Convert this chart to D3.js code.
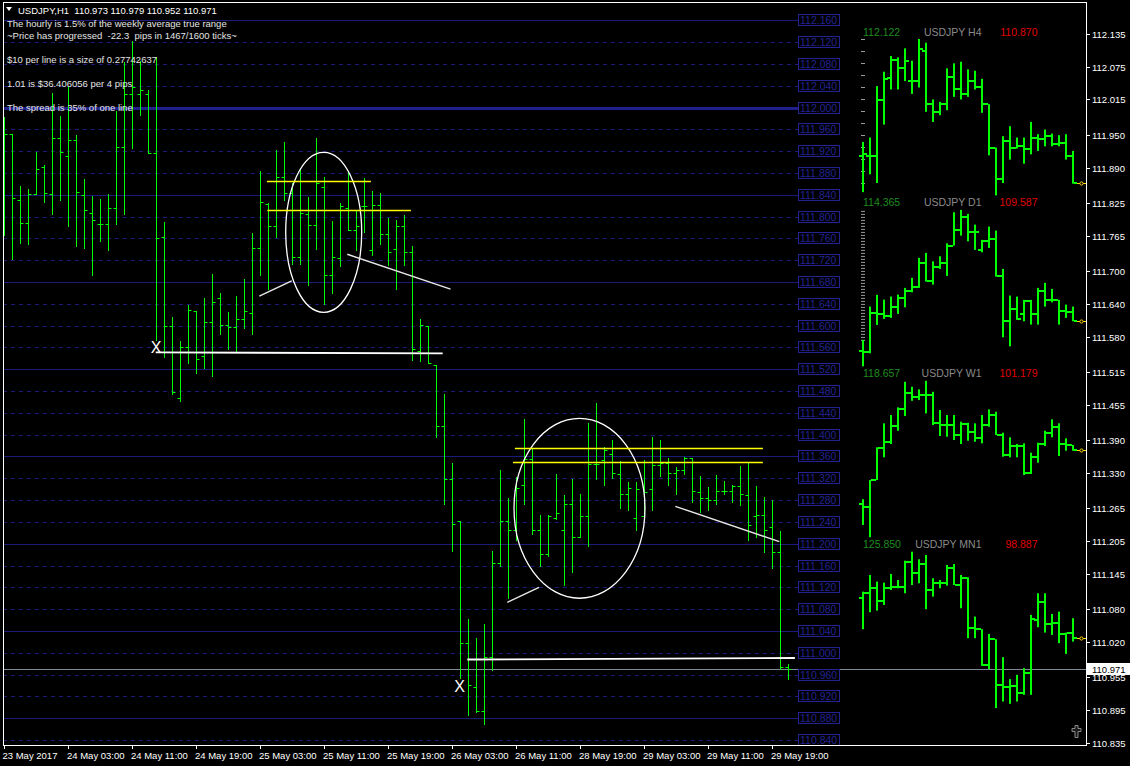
<!DOCTYPE html>
<html><head><meta charset="utf-8">
<script src="https://cdn.jsdelivr.net/npm/d3@7"></script>
<style>
html,body{margin:0;padding:0;background:#000;overflow:hidden}
svg{display:block}
text{font-family:"Liberation Sans",Arial,sans-serif}
</style>
</head><body>
<svg id="c" width="1130" height="766"></svg>
<script>
// ---------- DATA ----------
const headerTitle = "USDJPY,H1";
const headerOHLC = ["110.973", "110.979", "110.952", "110.971"];
const infoLines = [
  "The hourly is 1.5% of the weekly average true range",
  "~Price has progressed  -22.3  pips in 1467/1600 ticks~",
  "$10 per line is a size of 0.27742637",
  "1.01 is $36.406056 per 4 pips",
  "The spread is 35% of one line"
];
const currentPrice = 110.971;

// H1 bars (oldest -> newest)
const barOpen = [
  111.968,111.952,111.830,111.788,111.842,111.891,111.842,111.944,111.911,111.940,
  111.840,111.807,111.786,111.786,111.815,111.928,112.025,112.025,112.025,111.916,
  111.763,111.600,111.468,111.560,111.627,111.544,111.607,111.650,111.601,111.597,
  111.613,111.624,111.742,111.823,111.782,111.872,111.843,111.726,111.804,111.784,
  111.854,111.693,111.724,111.816,111.775,111.819,111.739,111.821,111.769,111.741,
  111.782,111.735,111.553,111.599,111.528,111.416,111.318,111.241,111.017,110.937,
  110.894,110.993,111.165,111.241,111.226,111.307,111.355,111.226,111.181,111.248,
  111.226,111.272,111.212,111.250,111.346,111.354,111.365,111.327,111.292,111.247,
  111.250,111.300,111.344,111.348,111.329,111.335,111.357,111.294,111.283,111.280,
  111.297,111.297,111.306,111.289,111.250,111.252,111.231,111.184,110.973];
const barHigh = [
  111.983,111.952,111.856,111.850,111.919,111.895,112.026,111.985,112.040,111.950,
  111.869,111.837,111.832,111.842,111.994,112.084,112.123,112.086,112.032,112.092,
  111.791,111.615,111.571,111.638,111.627,111.651,111.695,111.660,111.625,111.654,
  111.686,111.770,111.884,111.825,111.922,111.937,111.862,111.889,111.836,111.944,
  111.873,111.792,111.825,111.882,111.812,111.871,111.847,111.843,111.797,111.794,
  111.803,111.746,111.612,111.599,111.528,111.475,111.348,111.241,111.062,111.027,
  111.053,111.187,111.335,111.284,111.323,111.428,111.376,111.252,111.252,111.328,
  111.289,111.319,111.292,111.421,111.459,111.378,111.390,111.352,111.313,111.313,
  111.354,111.396,111.390,111.357,111.341,111.359,111.357,111.324,111.304,111.326,
  111.315,111.308,111.343,111.349,111.305,111.286,111.280,111.223,110.979];
const barLow = [
  111.766,111.722,111.752,111.749,111.842,111.827,111.804,111.830,111.783,111.746,
  111.743,111.693,111.755,111.738,111.787,111.804,111.925,111.987,111.916,111.574,
  111.543,111.474,111.462,111.531,111.513,111.522,111.508,111.585,111.558,111.552,
  111.596,111.585,111.693,111.667,111.763,111.830,111.713,111.713,111.675,111.741,
  111.640,111.660,111.709,111.775,111.739,111.772,111.730,111.750,111.711,111.667,
  111.711,111.537,111.536,111.532,111.396,111.273,111.187,110.954,110.885,110.891,
  110.870,110.969,111.160,111.101,111.206,111.272,111.217,111.160,111.178,111.246,
  111.125,111.149,111.212,111.196,111.319,111.308,111.321,111.266,111.261,111.225,
  111.247,111.262,111.324,111.308,111.292,111.328,111.277,111.258,111.261,111.273,
  111.292,111.277,111.271,111.207,111.212,111.185,111.156,110.970,110.952];
const barClose = [
  111.952,111.834,111.788,111.842,111.887,111.843,111.944,111.918,111.940,111.846,
  111.813,111.793,111.786,111.815,111.928,112.025,112.037,112.032,111.916,111.760,
  111.600,111.479,111.560,111.628,111.538,111.607,111.644,111.601,111.597,111.612,
  111.626,111.742,111.826,111.782,111.872,111.843,111.726,111.806,111.784,111.862,
  111.693,111.726,111.819,111.775,111.783,111.819,111.821,111.769,111.735,111.782,
  111.735,111.557,111.602,111.532,111.416,111.318,111.237,111.017,110.940,110.894,
  110.993,111.165,111.241,111.226,111.302,111.355,111.226,111.181,111.250,111.257,
  111.272,111.212,111.250,111.346,111.346,111.372,111.329,111.292,111.303,111.300,
  111.295,111.344,111.348,111.329,111.335,111.357,111.296,111.283,111.280,111.297,
  111.297,111.306,111.291,111.234,111.252,111.225,111.184,110.973,110.971];

// time axis
const timeLabelBars = [0, 8, 16, 24, 32, 40, 48, 56, 64, 72, 80, 88, 96];
const timeLabels = ["23 May 2017","24 May 03:00","24 May 11:00","24 May 19:00","25 May 03:00",
  "25 May 11:00","25 May 19:00","26 May 03:00","26 May 11:00","28 May 19:00","29 May 03:00",
  "29 May 11:00","29 May 19:00"];
// price axis
const priceTicks = [112.135,112.075,112.015,111.950,111.890,111.825,111.765,111.700,111.640,
  111.580,111.515,111.455,111.390,111.330,111.265,111.205,111.145,111.080,111.020,110.955,
  110.895,110.835];
// horizontal level lines (labelled)
const levelLabels = ["112.160","112.120","112.080","112.040","112.000","111.960","111.920",
  "111.880","111.840","111.800","111.760","111.720","111.680","111.640","111.600","111.560",
  "111.520","111.480","111.440","111.400","111.360","111.320","111.280","111.240","111.200",
  "111.160","111.120","111.080","111.040","111.000","110.960","110.920","110.880","110.840"];
const solidLevels = ["112.160","112.000","111.840","111.680","111.520","111.360","111.200","111.040","110.880"];
const thickLevel = "112.000";

// drawn objects (bar index, price)
const ellipses = [
  {x0: 35.25, x1: 44.75, p0: 111.6245, p1: 111.918},
  {x0: 63.79, x1: 80.16, p0: 111.100, p1: 111.430}
];
const yellowLines = [
  {x0: 32.9, x1: 45.9, p: 111.865},
  {x0: 32.95, x1: 50.9, p: 111.813},
  {x0: 63.9, x1: 94.9, p: 111.375},
  {x0: 63.66, x1: 94.9, p: 111.349}
];
const trendLines = [
  {x0: 31.95, p0: 111.654, x1: 36.0, p1: 111.682},
  {x0: 42.95, p0: 111.731, x1: 55.85, p1: 111.667},
  {x0: 62.95, p0: 111.0925, x1: 66.91, p1: 111.120},
  {x0: 83.95, p0: 111.2686, x1: 96.95, p1: 111.2037}
];
const supportLines = [
  {x0: 19.0, p0: 111.551, x1: 54.875, p1: 111.549},
  {x0: 57.95, p0: 110.9876, x1: 98.9, p1: 110.9904}
];
const xMarks = [{x: 19.04, p: 111.560}, {x: 57.0, p: 110.939}];

// mini charts
const miniTitles = ["USDJPY H4", "USDJPY D1", "USDJPY W1", "USDJPY MN1"];
const miniMax = [112.122, 114.365, 118.657, 125.850];
const miniMin = [110.870, 109.587, 101.179, 98.887];
const miniMaxText = ["112.122", "114.365", "118.657", "125.850"];
const miniMinText = ["110.870", "109.587", "101.179", "98.887"];

const h4Open = [111.183,111.183,111.183,111.632,111.809,111.953,111.887,111.787,111.787,112.028,111.600,111.539,111.600,111.819,111.718,111.681,111.787,111.734,111.600,111.253,110.998,111.306,111.253,111.263,111.245,111.333,111.325,111.344,111.279,111.290,111.185];
const h4High = [111.298,111.333,111.745,111.860,111.986,111.975,112.047,111.948,112.122,112.092,111.638,111.619,111.887,111.927,111.940,111.879,111.868,111.803,111.600,111.253,111.344,111.424,111.333,111.333,111.458,111.360,111.397,111.365,111.352,111.360,111.226];
const h4Low = [110.896,111.039,110.969,111.437,111.718,111.718,111.785,111.683,111.734,111.539,111.458,111.512,111.552,111.659,111.638,111.659,111.718,111.531,111.191,110.870,110.969,111.157,111.245,111.124,111.199,111.226,111.263,111.263,111.263,111.157,110.964];
const h4Close = [111.199,111.183,111.632,111.803,111.953,111.887,111.945,111.787,112.039,111.600,111.539,111.600,111.819,111.718,111.681,111.787,111.734,111.600,111.253,110.998,111.306,111.253,111.263,111.245,111.333,111.325,111.344,111.279,111.290,111.185,110.971];

const d1Open = [110.045,110.015,111.206,111.188,111.136,111.411,111.677,111.900,112.022,112.734,112.205,112.612,112.734,113.274,113.754,114.160,113.681,113.143,113.406,113.479,112.358,110.962,111.341,111.188,111.573,111.188,111.900,111.616,111.616,111.289,111.237];
const d1High = [110.394,111.411,111.768,111.625,111.716,111.777,111.982,112.288,112.899,113.051,112.795,112.948,113.345,114.292,114.365,114.243,113.916,113.449,113.855,113.733,112.563,111.747,111.716,111.616,111.616,111.982,112.135,111.952,111.616,111.472,111.411];
const d1Low = [109.587,109.984,110.852,111.035,111.066,111.188,111.390,111.848,111.982,112.175,112.083,112.563,112.349,113.274,113.580,113.406,113.143,113.070,113.204,112.327,110.473,110.198,111.005,110.962,110.861,110.861,111.411,111.542,110.861,111.066,110.962];
const d1Close = [110.015,111.206,111.188,111.136,111.411,111.677,111.900,112.022,112.734,112.205,112.612,112.734,113.274,113.754,114.160,113.681,113.681,113.406,113.479,112.358,110.962,111.341,111.035,111.573,111.188,111.900,111.616,111.616,111.289,111.237,110.971];

const w1Open = [104.896,104.527,107.574,111.112,111.849,113.601,115.465,117.251,116.871,117.061,117.061,113.970,113.713,113.713,112.597,113.824,112.965,112.228,113.713,114.829,112.597,110.365,111.369,111.369,108.389,110.108,111.592,112.853,113.456,111.592,111.481];
const w1High = [105.420,107.574,111.224,113.903,114.829,115.688,118.546,117.987,117.697,118.657,117.429,115.387,114.829,114.829,114.081,113.970,113.903,114.829,115.465,115.197,112.853,112.340,111.592,111.670,110.621,111.737,113.077,114.349,113.903,112.228,111.481];
const w1Low = [102.552,101.179,107.574,110.108,111.592,113.077,114.717,116.425,116.503,115.019,113.713,112.485,112.407,112.039,111.592,111.961,111.849,111.670,113.523,112.597,110.175,110.108,110.108,108.132,108.244,109.505,111.369,112.340,110.253,110.844,110.844];
const w1Close = [104.527,107.574,111.112,111.849,113.601,115.465,117.251,116.871,117.061,117.061,113.970,113.713,113.713,112.597,113.824,112.965,112.228,113.713,114.829,112.597,110.365,111.369,111.369,108.389,110.108,111.592,112.853,113.456,111.592,111.481,110.971];

const mnOpen = [117.878,118.791,119.549,117.414,119.549,119.824,119.824,124.129,122.235,123.733,119.256,120.513,120.513,122.992,120.117,121.270,112.661,112.489,106.342,110.767,102.899,102.606,102.727,101.470,105.017,114.142,117.241,113.402,113.626,111.680,111.801];
const mnHigh = [118.963,121.839,120.685,120.513,122.011,120.978,124.301,125.850,124.542,125.282,121.270,120.978,123.560,123.733,121.839,121.443,114.659,112.489,111.680,110.767,107.668,103.880,104.621,105.774,114.951,118.688,118.688,115.124,115.520,111.904,114.383];
const mnLow = [112.489,115.416,115.692,116.673,119.256,119.549,118.688,120.117,120.410,115.933,118.102,119.549,119.996,120.117,116.105,110.940,110.940,106.170,105.602,98.887,100.023,99.627,100.023,101.177,101.177,112.834,111.904,111.508,110.079,108.236,110.354];
const mnClose = [118.791,119.549,117.414,119.549,119.824,119.824,124.129,122.235,123.733,119.256,120.513,120.513,122.992,120.117,121.270,112.661,112.489,106.342,110.767,102.899,102.606,102.727,101.470,105.017,114.211,117.241,113.402,113.626,111.680,111.801,110.971];

// ---------- DRAW ----------
const svg = d3.select("#c");
const W = 1130, H = 766;
const L = 3, R = 1086, T = 3, B = 745;
const BAR_COLOR = "#00ff00";
const LEVEL_COLOR = "#1c1c78";
const LEVEL_TEXT = "#232392";

svg.append("rect").attr("width", W).attr("height", H).attr("fill", "#000");

const x = d3.scaleLinear().domain([0, 98]).range([3.7, 787.7]);
const y = d3.scaleLinear().domain([110.835, 112.135]).range([742.7, 34]);
const px = v => Math.round(x(v)) + 0.5;
const py = v => Math.round(y(v)) + 0.5;

svg.append("defs").append("clipPath").attr("id", "plot")
  .append("rect").attr("x", L).attr("y", T).attr("width", R - L).attr("height", B - T);
const plot = svg.append("g").attr("clip-path", "url(#plot)");

// level lines
levelLabels.forEach(s => {
  const v = +s;
  const g = plot.append("line")
    .attr("x1", L).attr("x2", 798).attr("y1", py(v)).attr("y2", py(v))
    .attr("stroke", LEVEL_COLOR);
  if (s === thickLevel) g.attr("stroke-width", 3).attr("stroke", "#20208a");
  else if (solidLevels.includes(s)) g.attr("stroke-width", 1);
  else g.attr("stroke-width", 1).attr("stroke-dasharray", "4,4");
});

// ask line
plot.append("line").attr("x1", L).attr("x2", R).attr("y1", py(currentPrice)).attr("y2", py(currentPrice))
  .attr("stroke", "#7d8b99").attr("stroke-width", 1);

// H1 bars
const bars = plot.append("g").attr("stroke", BAR_COLOR).attr("stroke-width", 1);
barOpen.forEach((o, i) => {
  const cx = px(i);
  bars.append("line").attr("x1", cx).attr("x2", cx).attr("y1", Math.round(y(barHigh[i]))).attr("y2", Math.round(y(barLow[i])) + 1);
  bars.append("line").attr("x1", cx - 3).attr("x2", cx).attr("y1", py(o)).attr("y2", py(o));
  bars.append("line").attr("x1", cx).attr("x2", cx + 3).attr("y1", py(barClose[i])).attr("y2", py(barClose[i]));
});

// objects
ellipses.forEach(e => {
  const cx = (x(e.x0) + x(e.x1)) / 2, cy = (y(e.p0) + y(e.p1)) / 2;
  plot.append("ellipse").attr("cx", cx).attr("cy", cy)
    .attr("rx", Math.abs(x(e.x1) - x(e.x0)) / 2).attr("ry", Math.abs(y(e.p0) - y(e.p1)) / 2)
    .attr("fill", "none").attr("stroke", "#fff").attr("stroke-width", 1.3);
});
yellowLines.forEach(l => {
  plot.append("line").attr("x1", x(l.x0)).attr("x2", x(l.x1)).attr("y1", py(l.p)).attr("y2", py(l.p))
    .attr("stroke", "#ffff00").attr("stroke-width", 1.6);
});
trendLines.forEach(l => {
  plot.append("line").attr("x1", x(l.x0)).attr("x2", x(l.x1)).attr("y1", y(l.p0)).attr("y2", y(l.p1))
    .attr("stroke", "#e8e8e8").attr("stroke-width", 1.4);
});
supportLines.forEach(l => {
  plot.append("line").attr("x1", x(l.x0)).attr("x2", x(l.x1)).attr("y1", y(l.p0)).attr("y2", y(l.p1))
    .attr("stroke", "#fff").attr("stroke-width", 1.8);
});
xMarks.forEach(m => {
  plot.append("text").attr("x", x(m.x)).attr("y", y(m.p) + 6).attr("text-anchor", "middle")
    .attr("font-size", 16).attr("fill", "#fff").text("X");
});

// level label boxes
levelLabels.forEach(s => {
  const v = +s, cy = y(v);
  plot.append("rect").attr("x", 798.5).attr("y", Math.round(cy) - 5.5).attr("width", 41).attr("height", 11)
    .attr("fill", "#000").attr("stroke", LEVEL_TEXT).attr("stroke-width", 1);
  plot.append("text").attr("x", 800).attr("y", Math.round(cy) + 4).attr("font-size", 10.5)
    .attr("fill", LEVEL_TEXT).text(s);
});

// header texts
svg.append("path").attr("d", "M6,7 L12,7 L9,11 Z").attr("fill", "#fff");
svg.append("text").attr("x", 18).attr("y", 14.3).attr("font-size", 9.5).attr("fill", "#fff")
  .style("white-space", "pre").text(headerTitle + "  " + headerOHLC.join(" "));
const infoY = [26.7, 38.5, 63, 87, 111];
infoLines.forEach((t, i) => {
  svg.append("text").attr("x", 7).attr("y", infoY[i]).attr("font-size", 9.5).attr("fill", "#e4e4e4")
    .style("white-space", "pre").text(t);
});

// mini charts
const miniData = [
  [h4Open, h4High, h4Low, h4Close],
  [d1Open, d1High, d1Low, d1Close],
  [w1Open, w1High, w1Low, w1Close],
  [mnOpen, mnHigh, mnLow, mnClose]
];
const panelStep = 170.9, panelTop0 = 39, panelH = 156.4;
const mx = d3.scaleLinear().domain([0, 30]).range([862.7, 1072.7]);
miniData.forEach((d, p) => {
  const top = panelTop0 + p * panelStep;
  const my = d3.scaleLinear().domain([miniMin[p], miniMax[p]]).range([top + panelH, top]);
  const g = svg.append("g");
  g.append("text").attr("x", 863).attr("y", top - 3.5).attr("font-size", 10.5).attr("fill", "#1f8c1f").text(miniMaxText[p]);
  g.append("text").attr("x", 981.5).attr("y", top - 3.5).attr("font-size", 10.5).attr("fill", "#8a8a8a")
    .attr("text-anchor", "end").text(miniTitles[p]);
  g.append("text").attr("x", 1037.5).attr("y", top - 3.5).attr("font-size", 10.5).attr("fill", "#e00000")
    .attr("text-anchor", "end").text(miniMinText[p]);
  if (p === 0) {
    d3.range(0, 13).forEach(k => g.append("rect").attr("x", 861).attr("y", top + k * 12).attr("width", 4).attr("height", 1).attr("fill", "#9a9a9a"));
  } else if (p === 1) {
    d3.range(0, 44).forEach(k => g.append("rect").attr("x", 861).attr("y", top + 1 + k * 3).attr("width", 4).attr("height", 1).attr("fill", "#9a9a9a"));
  }
  const [O, Hh, Ll, C] = d;
  O.forEach((o, i) => {
    const cx = Math.round(mx(i));
    const yh = my(Hh[i]), yl = my(Ll[i]);
    g.append("rect").attr("x", cx - 1).attr("y", yh).attr("width", 2).attr("height", Math.max(2, yl - yh)).attr("fill", BAR_COLOR);
    g.append("rect").attr("x", cx - 4).attr("y", Math.round(my(o)) - 1).attr("width", 3).attr("height", 2).attr("fill", BAR_COLOR);
    g.append("rect").attr("x", cx + 1).attr("y", Math.round(my(C[i])) - 1).attr("width", 3).attr("height", 2).attr("fill", BAR_COLOR);
  });
  const yc = Math.round(my(currentPrice)) + 0.5;
  g.append("line").attr("x1", 1077).attr("x2", 1086).attr("y1", yc).attr("y2", yc).attr("stroke", "#ffd700").attr("stroke-width", 1);
  g.append("circle").attr("cx", 1081.5).attr("cy", yc).attr("r", 1.6).attr("fill", "#000").attr("stroke", "#ffd700").attr("stroke-width", 1);
});

// cross icon
svg.append("path").attr("d", "M1075,725.5 h3 v3 h3 v3 h-3 v6 h-3 v-6 h-3 v-3 h3 Z")
  .attr("fill", "#1a1a1a").attr("stroke", "#8a8a8a").attr("stroke-width", 1);

// frame
const frame = svg.append("g").attr("stroke", "#fff").attr("stroke-width", 1);
frame.append("line").attr("x1", L + 0.5).attr("x2", L + 0.5).attr("y1", T).attr("y2", B + 1);
frame.append("line").attr("x1", L).attr("x2", R + 1).attr("y1", B + 0.5).attr("y2", B + 0.5);
frame.append("line").attr("x1", R + 0.5).attr("x2", R + 0.5).attr("y1", T).attr("y2", B + 1);
frame.append("line").attr("x1", L).attr("x2", R + 1).attr("y1", T - 0.5).attr("y2", T - 0.5);

// right axis
const yAxis = svg.append("g");
priceTicks.forEach(v => {
  const yy = Math.round(y(v)) + 0.5;
  yAxis.append("line").attr("x1", R).attr("x2", R + 4).attr("y1", yy).attr("y2", yy).attr("stroke", "#fff");
  yAxis.append("text").attr("x", 1092).attr("y", yy + 3.5).attr("font-size", 9.5).attr("fill", "#fff").text(v.toFixed(3));
});
// current price label
const cpy = Math.round(y(currentPrice));
svg.append("rect").attr("x", 1087).attr("y", cpy - 6).attr("width", 43).attr("height", 12).attr("fill", "#fff");
svg.append("text").attr("x", 1092).attr("y", cpy + 3.5).attr("font-size", 9.5).attr("fill", "#000").text(currentPrice.toFixed(3));

// bottom axis
const xAxis = svg.append("g");
timeLabelBars.forEach((b, i) => {
  const xx = px(b);
  xAxis.append("line").attr("x1", xx).attr("x2", xx).attr("y1", B).attr("y2", B + 4).attr("stroke", "#fff");
  xAxis.append("text").attr("x", i === 0 ? 2.5 : xx - 1.5).attr("y", 759).attr("font-size", 9.5).attr("fill", "#fff").text(timeLabels[i]);
});
</script>
</body></html>
